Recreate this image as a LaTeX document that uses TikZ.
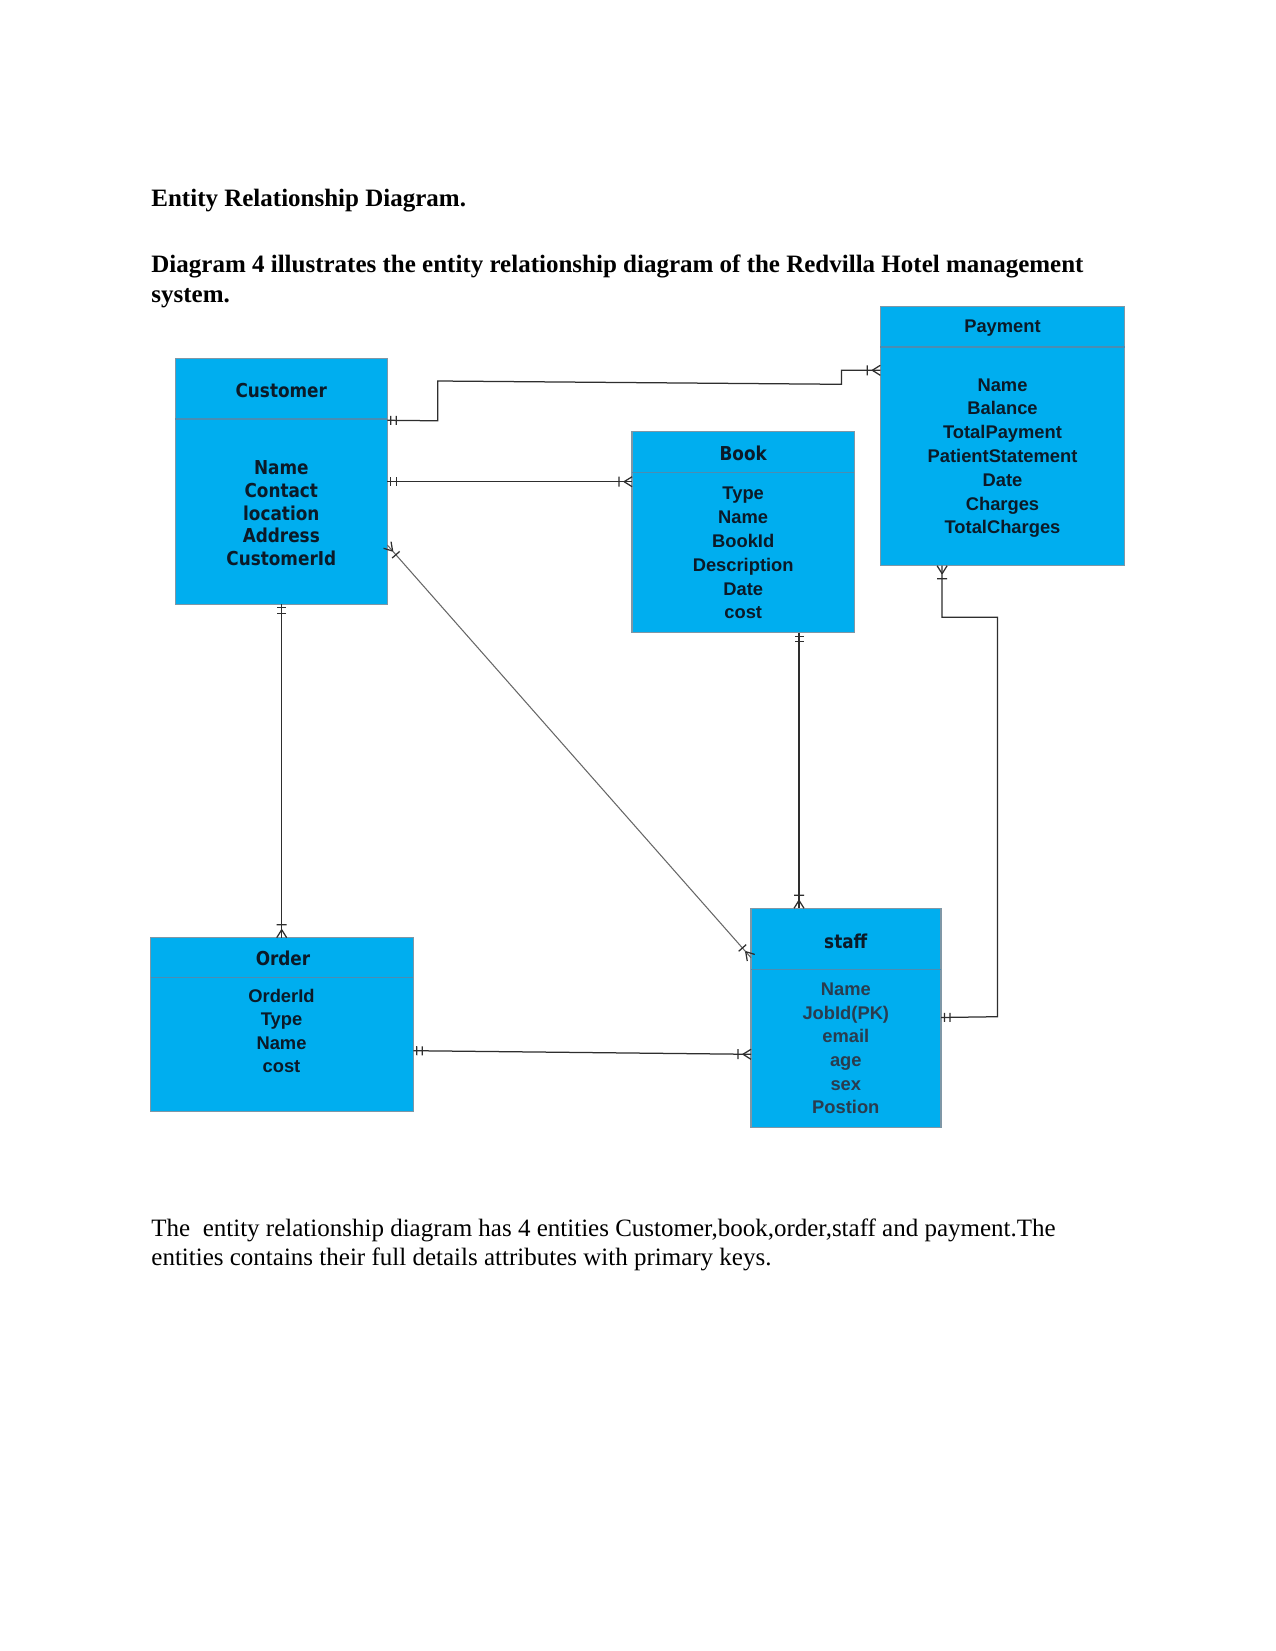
\documentclass[tikz,border=0pt]{standalone}
\usepackage{fontspec}
\setmainfont{Liberation Serif}
\newfontfamily\tah{DejaVu Sans}[FakeStretch=0.88]
\newfontfamily\ari{Liberation Sans}
\usetikzlibrary{decorations.markings}
\definecolor{boxblue}{HTML}{00AEEF}
\definecolor{boxedge}{HTML}{7F97A6}
\definecolor{divline}{HTML}{4A8DB3}
\definecolor{etext}{HTML}{0B1A28}
\definecolor{stext}{HTML}{2A3C4E}
\definecolor{conn}{HTML}{2E2E2E}
\tikzset{
  ent/.style={draw=boxedge, fill=boxblue, line width=0.6pt, inner sep=0pt, outer sep=0pt, anchor=north west},
  divider/.style={draw=divline, line width=0.6pt},
  ttl/.style={font=\tah\bfseries\fontsize{9.2}{11}\selectfont, text=etext, anchor=base, inner sep=0pt},
  ttla/.style={font=\ari\bfseries\fontsize{8.8}{11}\selectfont, text=etext, anchor=base, inner sep=0pt},
  attrt/.style={font=\tah\bfseries\fontsize{9.2}{10.85}\selectfont, text=etext, align=center, anchor=base, inner sep=0pt},
  attra/.style={font=\ari\bfseries\fontsize{8.8}{#1}\selectfont, text=etext, align=center, anchor=base, inner sep=0pt},
  rel/.style={draw=conn, line width=0.6pt},
  oneS/.style={postaction={decorate,decoration={markings,mark=at position 0 with {\draw[conn,line width=0.6pt] (3.5,-4.5)--(3.5,4.5) (9,-4.5)--(9,4.5);}}}},
  oneE/.style={postaction={decorate,decoration={markings,mark=at position 1 with {\draw[conn,line width=0.6pt] (-3.5,-4.5)--(-3.5,4.5) (-9,-4.5)--(-9,4.5);}}}},
  manyE/.style={postaction={decorate,decoration={markings,mark=at position 1 with {\draw[conn,line width=0.6pt] (-8,0)--(0,5) (-8,0)--(0,-5) (-13,-5)--(-13,5);}}}},
  manyS/.style={postaction={decorate,decoration={markings,mark=at position 0 with {\draw[conn,line width=0.6pt] (8,0)--(0,5) (8,0)--(0,-5) (13,-5)--(13,5);}}}},
}
\begin{document}
\begin{tikzpicture}[x=0.48pt,y=-0.48pt]
\useasboundingbox[fill=white] (0,0) rectangle (1275,1651);

% texts (multi-line nodes are anchored at the baseline of their last line)
\node[anchor=base west, inner sep=0pt, font=\bfseries\fontsize{12}{13}\selectfont] (head) at (151,206.7) {Entity Relationship Diagram.};
\node[anchor=base west, inner sep=0pt, align=left, font=\bfseries\fontsize{12}{14.35}\selectfont] (intro) at (151,302.2) {Diagram 4 illustrates the entity relationship diagram of the Redvilla Hotel management\\system.};
\node[anchor=base west, inner sep=0pt, align=left, font=\fontsize{12}{13.6}\selectfont] (outro) at (151,1265) {The\ \ entity relationship diagram has 4 entities Customer,book,order,staff and payment.The\\entities contains their full details attributes with primary keys.};

% entities
\node[ent, minimum width=101.76pt, minimum height=118.08pt] (cust) at (175.3,358.3) {};
\node[ent, minimum width=117.31pt, minimum height=124.32pt] (pay) at (880.3,306.7) {};
\node[ent, minimum width=106.61pt, minimum height=96.48pt] (book) at (632.1,431.7) {};
\node[ent, minimum width=91.2pt, minimum height=105.31pt] (staff) at (751,908.3) {};
\node[ent, minimum width=126.05pt, minimum height=83.52pt] (order) at (150.7,937.7) {};

\draw[divider] (cust.west |- 0,419) -- (cust.east |- 0,419);
\draw[divider] (pay.west |- 0,347) -- (pay.east |- 0,347);
\draw[divider] (book.west |- 0,472.7) -- (book.east |- 0,472.7);
\draw[divider] (staff.west |- 0,969.3) -- (staff.east |- 0,969.3);
\draw[divider] (order.west |- 0,977.3) -- (order.east |- 0,977.3);

\node[ttl] (custT) at (281.3,397.7) {Customer};
\node[attrt] (custA) at (281.3,565.4) {Name\\Contact\\location\\Address\\CustomerId};
\node[ttla] (payT) at (1002.5,332) {Payment};
\node[attra=11.42] (payA) at (1002.5,533.8) {Name\\Balance\\TotalPayment\\PatientStatement\\Date\\Charges\\TotalCharges};
\node[ttl] (bookT) at (743.2,460.3) {Book};
\node[attra=11.42] (bookA) at (743.2,618.8) {Type\\Name\\BookId\\Description\\Date\\cost};
\node[ttl] (staffT) at (845.8,948) {staff};
\node[attra=11.36, text=stext] (staffA) at (845.8,1113.8) {Name\\JobId(PK)\\email\\age\\sex\\Postion};
\node[ttl] (orderT) at (283,965.3) {Order};
\node[attra=11.3] (orderA) at (281.5,1072.7) {OrderId\\Type\\Name\\cost};

% connection points
\coordinate (c1s) at (cust.east |- 0,420.3);
\coordinate (c1e) at (pay.west |- 0,370.3);
\coordinate (c2s) at (cust.east |- 0,481.7);
\coordinate (c2e) at (book.west |- 0,481.7);
\coordinate (c3s) at (cust.east |- 0,545);
\coordinate (c3e) at (staff.west |- 0,957.7);
\coordinate (c4s) at (cust.south -| 281.7,0);
\coordinate (c4e) at (order.north -| 281.7,0);
\coordinate (c5s) at (book.south -| 799,0);
\coordinate (c5e) at (staff.north -| 799,0);
\coordinate (c6s) at (pay.south -| 942.1,0);
\coordinate (c6e) at (staff.east |- 0,1017.5);
\coordinate (c7s) at (order.east |- 0,1050.7);
\coordinate (c7e) at (staff.west |- 0,1054.3);

% relationships
\draw[rel, oneS, manyE] (c1s) -- (437.7,420.8) -- (437.7,381) -- (841.4,384.3) -- (841.4,370.3) -- (c1e);
\draw[rel, oneS, manyE] (c2s) -- (c2e);
\draw[rel, draw=gray!80!black, line width=0.5pt, manyS, manyE] (c3s) -- (c3e);
\draw[rel, oneS, manyE] (c4s) -- (c4e);
\draw[rel, oneS, manyE] (c5s) -- (c5e);
\draw[rel, manyS, oneE] (c6s) -- (942.1,617.3) -- (997.6,617.3) -- (997.6,1016.7) -- (c6e);
\draw[rel, oneS, manyE] (c7s) -- (c7e);
\end{tikzpicture}
\end{document}
